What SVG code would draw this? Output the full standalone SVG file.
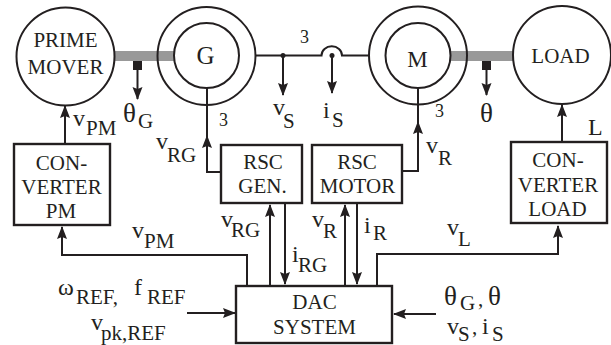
<svg xmlns="http://www.w3.org/2000/svg" width="611" height="345" viewBox="0 0 611 345">
<style>
.n{fill:none;stroke:#231f20;stroke-width:2}
.b{fill:#fff;stroke:#231f20;stroke-width:2.4}
.c{fill:none;stroke:#231f20;stroke-width:2}
.s{fill:#999;stroke:none}
text{font-family:"Liberation Serif","Times New Roman",serif;font-size:21px;fill:#231f20}
.m{text-anchor:middle}
.t{font-size:18px}
.v{font-size:24px}
.g{font-size:27px}
</style>
<defs>
<marker id="a" markerUnits="userSpaceOnUse" markerWidth="14" markerHeight="12" refX="12" refY="5" orient="auto"><path d="M0 0L13 5L0 10L2 5Z" fill="#231f20"/></marker>
</defs>
<g id="shafts">
<rect class="s" x="114" y="51" width="61" height="10"/>
<rect class="s" x="451" y="51" width="62" height="10"/>
<rect x="133" y="61" width="9" height="9" fill="#231f20"/>
<rect x="482" y="61" width="9" height="9" fill="#231f20"/>
</g>
<g id="connectors">
<path class="c" d="M256 55.500H321.500A10 9 0 0 1 342 55.500H369"/>
<circle cx="283" cy="55.500" r="2.500" fill="#231f20"/>
<circle cx="332" cy="55.500" r="2.500" fill="#231f20"/>
<path class="c" d="M283 55.500V95" marker-end="url(#a)"/>
<path class="c" d="M332 55.500V93" marker-end="url(#a)"/>
<path class="c" d="M137.500 70V99" marker-end="url(#a)"/>
<path class="c" d="M486.500 70V95" marker-end="url(#a)"/>
<path class="c" d="M65 144V106" marker-end="url(#a)"/>
<path class="c" d="M562 142V105" marker-end="url(#a)"/>
<path class="c" d="M207 88V172H221"/>
<path class="c" d="M207 160V136" marker-end="url(#a)"/>
<path class="c" d="M418 88V171H402"/>
<path class="c" d="M418 150V122" marker-end="url(#a)"/>
<path class="c" d="M247 286V255H62V227" marker-end="url(#a)"/>
<path class="c" d="M377 286V254H558V226" marker-end="url(#a)"/>
<path class="c" d="M270 285V205" marker-end="url(#a)"/>
<path class="c" d="M285 204V284" marker-end="url(#a)"/>
<path class="c" d="M345 285V205" marker-end="url(#a)"/>
<path class="c" d="M357 204V284" marker-end="url(#a)"/>
<path class="c" d="M187 313H235" marker-end="url(#a)"/>
<path class="c" d="M436 314H394" marker-end="url(#a)"/>
</g>
<g id="prime-mover"><circle class="n" cx="65.500" cy="56.500" r="49"/><text class="m" x="65.500" y="47">PRIME</text><text class="m" x="65.500" y="73.500">MOVER</text></g>
<g id="generator"><circle class="n" cx="206.500" cy="56" r="49"/><circle class="n" cx="206.500" cy="55.500" r="32.500"/><text class="m" x="205.500" y="63.500" style="font-size:25px">G</text></g>
<g id="motor"><circle class="n" cx="418" cy="55.500" r="49"/><circle class="n" cx="418" cy="55.500" r="32.500"/><text class="m" x="417.500" y="67" style="font-size:23px">M</text></g>
<g id="load"><circle class="n" cx="562" cy="55" r="49"/><text class="m" x="560.500" y="63">LOAD</text></g>
<g id="converter-pm"><rect class="b" x="14" y="144" width="96" height="81"/><text class="m" x="61.500" y="170">CON-</text><text class="m" x="61.500" y="194">VERTER</text><text class="m" x="61" y="218">PM</text></g>
<g id="rsc-gen"><rect class="b" x="221" y="145" width="81" height="58"/><text class="m" x="263" y="169">RSC</text><text class="m" x="262.500" y="193">GEN.</text></g>
<g id="rsc-motor"><rect class="b" x="312" y="145" width="90" height="58"/><text class="m" x="357" y="169">RSC</text><text class="m" x="357.500" y="193">MOTOR</text></g>
<g id="converter-load"><rect class="b" x="511" y="142" width="96" height="81"/><text class="m" x="558" y="167">CON-</text><text class="m" x="558" y="192">VERTER</text><text class="m" x="557.500" y="216">LOAD</text></g>
<g id="dac-system"><rect class="b" x="236" y="286" width="156" height="57"/><text class="m" x="314.500" y="309">DAC</text><text class="m" x="314.500" y="334">SYSTEM</text></g>
<g id="labels">
<text class="v" x="73" y="126">v</text><text x="86" y="135">PM</text>
<text class="g" x="123" y="122">θ</text><text x="138" y="128">G</text>
<text class="v" x="156" y="149">v</text><text x="167" y="162">RG</text>
<text class="t" x="219" y="126">3</text>
<text class="t" x="300" y="43">3</text>
<text class="v" x="273" y="115">v</text><text x="283" y="128">S</text>
<text class="v" x="323" y="118">i</text><text x="332" y="127">S</text>
<text class="t" x="435" y="117">3</text>
<text class="v" x="426" y="153">v</text><text x="438" y="165">R</text>
<text class="g" x="480" y="122">θ</text>
<text class="v" x="588" y="135">L</text>
<text class="v" x="132" y="238">v</text><text x="144" y="248">PM</text>
<text class="v" x="221" y="227">v</text><text x="231" y="237">RG</text>
<text class="v" x="292" y="262">i</text><text x="298" y="272">RG</text>
<text class="v" x="312" y="227">v</text><text x="323" y="238">R</text>
<text class="v" x="364" y="233">i</text><text x="373" y="240">R</text>
<text class="v" x="447" y="235">v</text><text x="458" y="246">L</text>
<text class="g" x="58" y="295" style="font-size:24px">ω</text><text x="76" y="304">REF,</text>
<text class="v" x="134" y="295">f</text><text x="147" y="304">REF</text>
<text class="v" x="91" y="330">v</text><text x="101" y="340">pk,REF</text>
<text class="g" x="444" y="305">θ</text><text x="460" y="310">G</text><text x="478" y="306">,</text><text class="g" x="488" y="305">θ</text>
<text class="v" x="447" y="334">v</text><text x="458" y="340.500">S</text><text x="472" y="334">,</text><text class="v" x="482" y="334">i</text><text x="492" y="340.500">S</text>
</g>
</svg>
